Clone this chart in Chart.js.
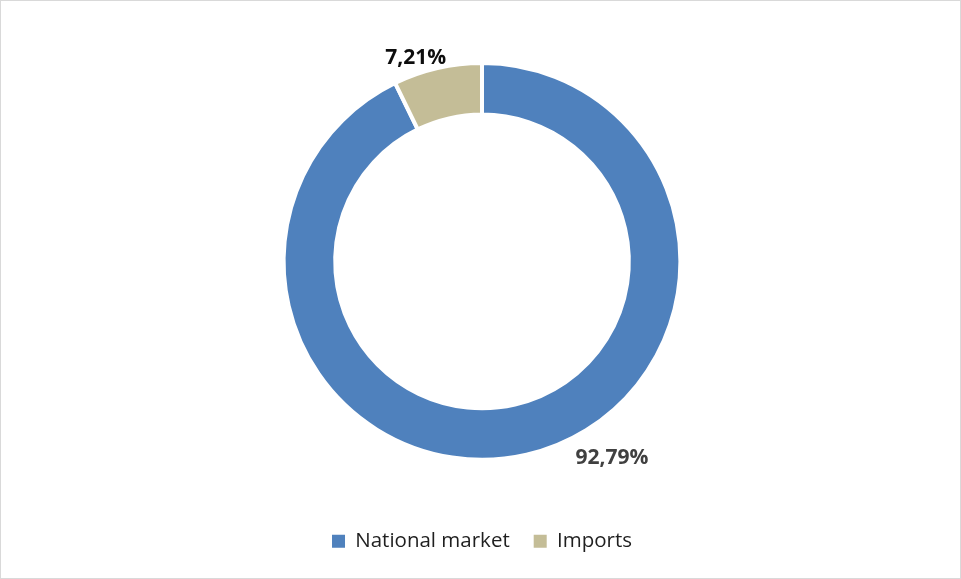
<!DOCTYPE html>
<html>
<head>
<meta charset="utf-8">
<script src="https://cdn.jsdelivr.net/npm/chart.js@4/dist/chart.umd.min.js"></script>
<style>
  html, body { margin: 0; padding: 0; background: #ffffff; }
  #frame {
    position: absolute; left: 0; top: 0;
    width: 961px; height: 579px;
    box-sizing: border-box;
    border: 1px solid #d9d9d9;
    background: #ffffff;
  }
  #chart { display: block; }
</style>
</head>
<body>
<div id="frame"><canvas id="chart" width="959" height="577"></canvas></div>
<script>
// Market share split
const categories = ['National market', 'Imports'];
const shares = [92.79, 7.21];
const shareLabels = ['92,79%', '7,21%'];

const sliceColors = ['#4F81BD', '#C4BD97'];
const labelColors = ['#404040', '#0d0d0d'];
// where each value label sits: angle (deg, 0 = 3 o'clock, clockwise) and distance as a multiple of the outer radius
const labelPlacement = [
  { angle: 56.6, dist: 1.19 },
  { angle: -108, dist: 1.08 }
];

const valueLabels = {
  id: 'valueLabels',
  afterDatasetsDraw(chart) {
    const ctx = chart.ctx;
    const meta = chart.getDatasetMeta(0);
    ctx.save();
    ctx.font = 'bold 21px "Open Sans", Lato, sans-serif';
    ctx.textAlign = 'center';
    ctx.textBaseline = 'middle';
    meta.data.forEach((arc, i) => {
      const p = labelPlacement[i];
      const a = p.angle * Math.PI / 180;
      const r = arc.outerRadius * p.dist;
      ctx.fillStyle = labelColors[i];
      ctx.fillText(shareLabels[i], arc.x + Math.cos(a) * r, arc.y + Math.sin(a) * r);
    });
    ctx.restore();
  }
};

const baseLegendLabels = Chart.overrides.doughnut.plugins.legend.labels.generateLabels;

new Chart(document.getElementById('chart'), {
  type: 'doughnut',
  data: {
    labels: categories,
    datasets: [{
      data: shares,
      backgroundColor: sliceColors,
      borderColor: '#ffffff',
      borderWidth: 4
    }]
  },
  options: {
    responsive: false,
    animation: false,
    cutout: '74%',
    layout: { padding: { top: 60, left: 3, right: 0, bottom: 16.5 } },
    plugins: {
      tooltip: { enabled: false },
      legend: {
        position: 'bottom',
        title: { display: true, text: '', font: { size: 1 }, padding: { top: 44, bottom: 0 } },
        labels: {
          boxWidth: 13,
          boxHeight: 13,
          padding: 24,
          color: '#1f1f1f',
          font: { family: '"Open Sans", Lato, sans-serif', size: 20.5 },
          generateLabels(chart) {
            return baseLegendLabels(chart)
              .map(item => Object.assign(item, { lineWidth: 0, strokeStyle: 'rgba(0,0,0,0)' }));
          }
        }
      }
    }
  },
  plugins: [valueLabels]
});
</script>
</body>
</html>
